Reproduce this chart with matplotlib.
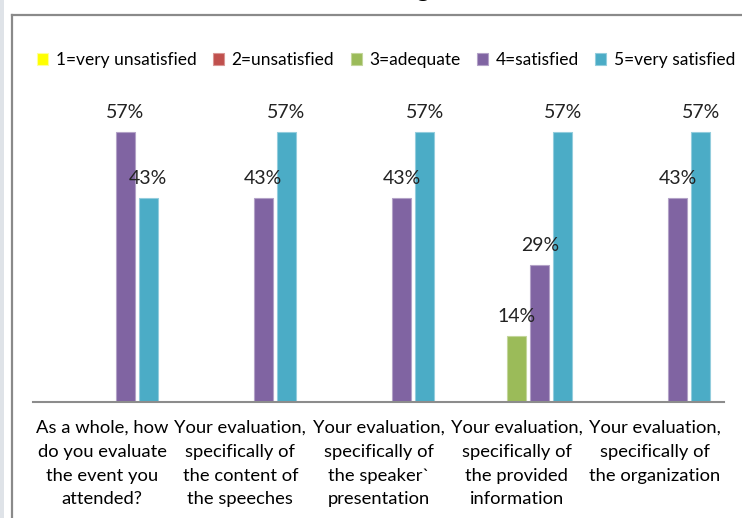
import numpy as np
import matplotlib
matplotlib.use("Agg")
import matplotlib.pyplot as plt
from matplotlib.patches import Rectangle
from matplotlib.lines import Line2D

plt.rcParams['font.family'] = ['Lato', 'DejaVu Sans']

# data (share of answers)
categories = [
    "As a whole, how\ndo you evaluate\nthe event you\nattended?",
    "Your evaluation,\nspecifically of\nthe content of\nthe speeches",
    "Your evaluation,\nspecifically of\nthe speaker`\npresentation",
    "Your evaluation,\nspecifically of\nthe provided\ninformation",
    "Your evaluation,\nspecifically of\nthe organization",
]
series_names = ["1=very unsatisfied", "2=unsatisfied", "3=adequate", "4=satisfied", "5=very satisfied"]
very_unsatisfied = [0, 0, 0, 0, 0]
unsatisfied = [0, 0, 0, 0, 0]
adequate = [0, 0, 0, 0.14, 0]
satisfied = [0.57, 0.43, 0.43, 0.29, 0.43]
very_satisfied = [0.43, 0.57, 0.57, 0.57, 0.57]
colors = ["#FFFF00", "#C0504D", "#9BBB59", "#8064A2", "#4BACC6"]
edges = ["#FFFF99", "#D99694", "#C3D69B", "#B3A2C7", "#93CDDD"]

W, H = 742, 518
fig = plt.figure(figsize=(W / 100, H / 100), dpi=100)

# chart frame (cropped screenshot of an office chart)
fig.patches.append(Rectangle((0, 0), 4 / W, 1, transform=fig.transFigure,
                             facecolor="#dfe3e8", edgecolor="none"))
fig.add_artist(Line2D([12.5 / W, 12.5 / W], [0, 1 - 15 / H], color="#8a8a8a", lw=1.6))
fig.add_artist(Line2D([12.5 / W, 1], [1 - 15 / H, 1 - 15 / H], color="#8a8a8a", lw=1.6))
# only the descender of the chart title is left in the crop
fig.text(422 / W, 1 + 4 / H, "g", fontsize=20, ha="center", va="baseline")

ax = fig.add_axes([33 / W, 116 / H, 691 / W, 284 / H])
ax.set_facecolor("none")

x = np.arange(len(categories))
slot = 1 / 6
bw = 0.137
all_series = [very_unsatisfied, unsatisfied, adequate, satisfied, very_satisfied]
handles = []
for i, vals in enumerate(all_series):
    bars = ax.bar(x + (i - 2) * slot, vals, width=bw, color=colors[i],
                  edgecolor=edges[i], linewidth=0.8, label=series_names[i])
    handles.append(bars)
    labels = [f"{v * 100:.0f}%" if v > 0 else "" for v in vals]
    ax.bar_label(bars, labels=labels, padding=8, fontsize=14, color="#222222")

ax.set_xlim(-0.5, len(categories) - 0.5)
ax.set_ylim(0, 0.6)
ax.set_yticks([])
ax.set_xticks(x)
ax.set_xticklabels(categories, fontsize=13.2, linespacing=1.6)
ax.tick_params(axis="x", length=0, pad=13)
for s in ["top", "right", "left"]:
    ax.spines[s].set_visible(False)
ax.spines["bottom"].set_color("#8c8c8c")
ax.spines["bottom"].set_linewidth(1.5)

fig.legend(handles=handles, labels=series_names, loc="center left",
           bbox_to_anchor=(37 / W, 1 - 60 / H), ncol=5, frameon=False,
           fontsize=12.5, handlelength=0.65, handleheight=0.65, handletextpad=0.42,
           columnspacing=0.95, borderaxespad=0, borderpad=0)

fig.savefig("out.png", dpi=100)
